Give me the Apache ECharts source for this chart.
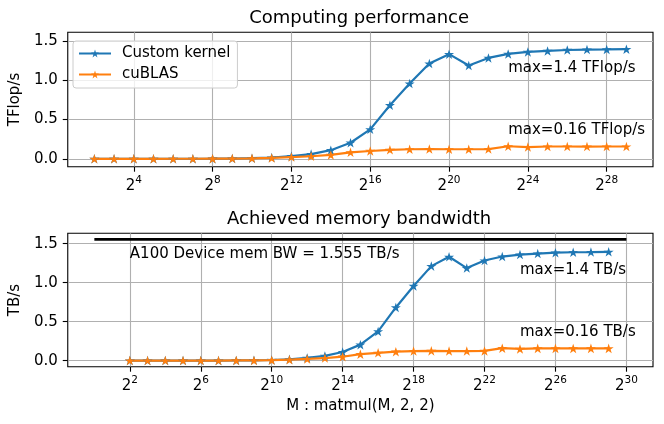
<!DOCTYPE html>
<html>
<head>
<meta charset="utf-8">
<script src="https://cdn.jsdelivr.net/npm/echarts@6/dist/echarts.min.js"></script>
<style>html,body{margin:0;padding:0;background:#fff;}#c{width:664px;height:424px;}</style>
</head>
<body>
<div id="c"></div>
<script>
// ---- data (x = log2(M)) ----
const exps = [2,3,4,5,6,7,8,9,10,11,12,13,14,15,16,17,18,19,20,21,22,23,24,25,26,27,28,29];
const customKernel = [0,0,0,0.001,0.001,0.001,0.002,0.004,0.008,0.017,0.034,0.06,0.11,0.205,0.375,0.682,0.958,1.212,1.332,1.187,1.284,1.335,1.36,1.373,1.385,1.39,1.392,1.395];
const cuBLAS = [0,0,0,0,0.001,0.001,0.002,0.003,0.006,0.012,0.022,0.033,0.05,0.083,0.1,0.115,0.122,0.125,0.122,0.122,0.124,0.16,0.15,0.157,0.157,0.156,0.157,0.157];
const bwCustom = customKernel.slice();
const bwCuBLAS = cuBLAS.slice();
const topTicksX = [4,8,12,16,20,24,28];
const botTicksX = [2,6,10,14,18,22,26,30];
const ticksY = [0,0.5,1.0,1.5];
const memLimit = 1.555;
const memLimitX = [0,30];
const titles = ['Computing performance','Achieved memory bandwidth'];
const annotations = [
  {grid:0, x:23, y:1.16, text:'max=1.4 TFlop/s'},
  {grid:0, x:23, y:0.365, text:'max=0.16 TFlop/s'},
  {grid:1, x:24, y:1.167, text:'max=1.4 TB/s'},
  {grid:1, x:24, y:0.368, text:'max=0.16 TB/s'},
  {grid:1, x:2, y:1.368, text:'A100 Device mem BW = 1.555 TB/s'}
];

// ---- style ----
const FONT = 'DejaVu Sans';
const FS = 15;
const BLUE = '#1f77b4', ORANGE = '#ff7f0e';
const STAR = 'path://M50,0L61.17,34.63L97.55,34.55L68.07,55.87L79.39,90.45L50,69L20.61,90.45L31.93,55.87L2.45,34.55L38.83,34.63Z';
const GL = 65.3, GR = 664 - 653;
const grids = [
  {left: GL, right: GR, top: 32.3, height: 134.4},
  {left: GL, right: GR, top: 233.3, height: 133.4}
];

function supFmt(v){ return '{b|2}{s|' + v + '}'; }
function xAxis(gi, min, max, ticks, name){
  return {
    type:'value', gridIndex: gi, min:min, max:max,
    axisLine:{show:false, onZero:false},
    axisTick:{show:true, length:5, customValues:ticks, lineStyle:{color:'#000', width:1.1}},
    axisLabel:{customValues:ticks, formatter:supFmt, margin:8,
      rich:{
        b:{fontSize:FS, fontFamily:FONT, color:'#000', lineHeight:19, verticalAlign:'bottom'},
        s:{fontSize:10.5, fontFamily:FONT, color:'#000', lineHeight:10, verticalAlign:'top'}
      }},
    splitLine:{show:true, lineStyle:{color:'#b0b0b0', width:1.1}},
    name: name || '', nameLocation:'middle', nameGap: 32,
    nameTextStyle:{fontSize:FS, fontFamily:FONT, color:'#000'}
  };
}
function yAxis(gi, min, max, name){
  return {
    type:'value', gridIndex: gi, min:min, max:max,
    axisLine:{show:false, onZero:false},
    axisTick:{show:true, length:5, customValues:ticksY, lineStyle:{color:'#000', width:1.1}},
    axisLabel:{customValues:ticksY, formatter: v => v.toFixed(1), margin:10,
      fontSize:FS, fontFamily:FONT, color:'#000'},
    splitLine:{show:true, lineStyle:{color:'#b0b0b0', width:1.1}},
    name:name, nameLocation:'middle', nameGap:37,
    nameTextStyle:{fontSize:FS, fontFamily:FONT, color:'#000'}
  };
}
function lineSeries(name, gi, ys, color){
  return {
    type:'line', name:name, xAxisIndex:gi, yAxisIndex:gi,
    data: exps.map((e,i)=>[e, ys[i]]),
    symbol: STAR, symbolSize: 10, symbolKeepAspect:true,
    showAllSymbol:true,
    lineStyle:{color:color, width:2.2},
    itemStyle:{color:color},
    emphasis:{disabled:true},
    animation:false
  };
}

const chart = echarts.init(document.getElementById('c'), null, {renderer:'canvas'});
chart.setOption({
  animation:false,
  backgroundColor:'#fff',
  grid: grids.map(g => Object.assign({show:true, borderColor:'#000', borderWidth:1.1, backgroundColor:'transparent'}, g)),
  xAxis:[ xAxis(0, 0.65, 30.35, topTicksX), xAxis(1, -1.5, 31.5, botTicksX, 'M : matmul(M, 2, 2)') ],
  yAxis:[ yAxis(0, -0.1, 1.61, 'TFlop/s'), yAxis(1, -0.078, 1.633, 'TB/s') ],
  legend:{
    data:['Custom kernel','cuBLAS'], orient:'vertical', left:73, top:41,
    padding:[5,7,6,5], itemGap:6, itemWidth:32, itemHeight:10,
    backgroundColor:'rgba(255,255,255,0.8)', borderColor:'#cccccc', borderWidth:1, borderRadius:3,
    textStyle:{fontSize:FS, fontFamily:FONT, color:'#000', padding:[0,0,0,6]},
    selectedMode:false
  },
  series:[
    lineSeries('Custom kernel', 0, customKernel, BLUE),
    lineSeries('cuBLAS', 0, cuBLAS, ORANGE),
    {type:'line', xAxisIndex:1, yAxisIndex:1, data: memLimitX.map(x=>[x, memLimit]),
     symbol:'none', lineStyle:{color:'#000', width:2.6}, silent:true, animation:false},
    lineSeries('Custom kernel', 1, bwCustom, BLUE),
    lineSeries('cuBLAS', 1, bwCuBLAS, ORANGE)
  ]
});

const gfx = [];
titles.forEach((t, gi) => {
  const g = grids[gi];
  const cx = g.left + (664 - g.right - g.left) / 2;
  gfx.push({type:'text', x:cx, y:g.top - 14, style:{text:t, fontSize:18, fontFamily:FONT, fill:'#000', align:'center', verticalAlign:'middle'}});
});
annotations.forEach(a => {
  const p = chart.convertToPixel({xAxisIndex:a.grid, yAxisIndex:a.grid}, [a.x, a.y]);
  gfx.push({type:'text', x:p[0], y:p[1], style:{text:a.text, fontSize:FS, fontFamily:FONT, fill:'#000', align:'left', verticalAlign:'middle'}});
});
chart.setOption({graphic: gfx});
</script>
</body>
</html>
